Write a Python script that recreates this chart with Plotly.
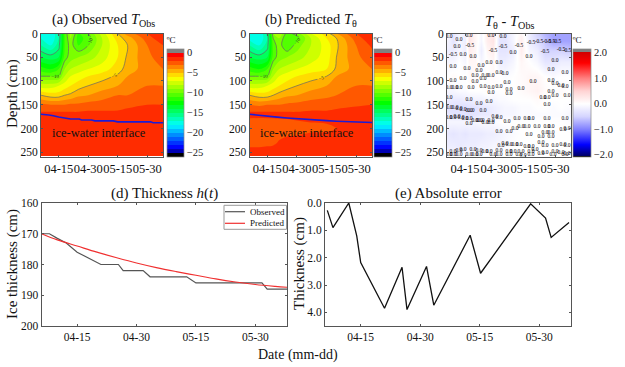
import plotly.graph_objects as go
import pandas as pd

# ---------- data ----------
START = pd.Timestamp("2020-04-06")
tick_dates = ["2020-04-15", "2020-04-30", "2020-05-15", "2020-05-30"]
tick_labels = ["04-15", "04-30", "05-15", "05-30"]

field_days = [0, 5, 9, 12, 15, 19, 24, 31, 39, 44, 54, 62]
field_depths = [0, 10, 25, 50, 75, 90, 110, 130, 150, 165, 175, 200, 230, 258]

observed_field = [
    [-17, -18, -16, -11, -8.5, -11, -10, -7.5, -5, -3.5, -2, -1],
    [-17, -18, -16, -11, -9, -11.5, -10.5, -8, -5.5, -4.5, -2.5, -1.2],
    [-16, -17, -15.5, -11, -9.5, -11, -10, -8, -6, -5, -3, -2],
    [-14, -14.5, -14, -10.5, -9.5, -9, -8.5, -7.5, -6, -4.8, -3.2, -2.6],
    [-11.5, -12, -11, -9, -8, -7.5, -7, -6.5, -5.5, -4.5, -3.5, -3],
    [-10, -10, -10, -8, -7, -6.5, -6, -5.5, -4.8, -4, -3.5, -3],
    [-7.5, -7.5, -7, -6.5, -6, -5.5, -5, -4.5, -4, -3.5, -3, -3],
    [-5, -5.5, -5.5, -5, -4.8, -4.2, -4, -3.5, -3, -3, -2.7, -2.5],
    [-2.8, -3, -3, -3, -2.8, -2.8, -2.6, -2.5, -2.4, -2.2, -2, -2],
    [-2, -2, -2, -2, -2, -2, -1.9, -1.9, -1.9, -1.8, -1.7, -1.6],
    [-1.8, -1.8, -1.8, -1.8, -1.8, -1.8, -1.7, -1.7, -1.7, -1.7, -1.6, -1.6],
    [-1.7, -1.7, -1.7, -1.7, -1.7, -1.6, -1.6, -1.6, -1.6, -1.6, -1.5, -1.5],
    [-1.5, -1.5, -1.5, -1.5, -1.5, -1.5, -1.5, -1.5, -1.4, -1.4, -1.4, -1.4],
    [-1.2, -1.2, -1.2, -1.2, -1.2, -1.2, -1.2, -1.2, -1.2, -1.2, -1.2, -1.2],
]

predicted_field = [
    [-17.5, -18, -15.5, -9, -8, -10.5, -9.5, -7, -5.5, -4, -2, -1],
    [-17.5, -18, -16, -10, -9, -11, -10.5, -8, -6, -5, -2.5, -1.2],
    [-16, -17, -15.5, -10.5, -9.5, -11, -9.5, -8, -6.5, -5.2, -3, -1.8],
    [-14, -14.5, -14, -10.5, -9.5, -9, -8.5, -7.5, -6.5, -5, -3.2, -2.5],
    [-11.5, -12, -11, -9, -8, -7.5, -7, -6.5, -6, -4.8, -3.5, -3],
    [-10, -10, -10, -8, -7, -6.5, -6, -5.5, -5, -4, -3.5, -3],
    [-7.5, -7.5, -7, -6.5, -6, -5.5, -5, -4.5, -4, -3.5, -3, -3],
    [-5, -5.5, -5.5, -5, -4.6, -4.2, -4, -3.5, -3.2, -3, -2.8, -2.5],
    [-3, -3.2, -3, -3, -3, -2.8, -2.7, -2.5, -2.5, -2.3, -2.1, -2],
    [-2, -2, -2, -2, -2, -2, -2, -1.9, -1.9, -1.8, -1.7, -1.6],
    [-1.9, -1.9, -1.9, -1.9, -1.9, -1.9, -1.8, -1.8, -1.7, -1.7, -1.6, -1.5],
    [-2.6, -2.7, -2.6, -2.6, -2.5, -2.4, -2.4, -2.2, -2.2, -2, -1.6, -1.5],
    [-2.4, -2.4, -2.3, -2.2, -1.9, -1.7, -1.6, -1.5, -1.4, -1.4, -1.4, -1.3],
    [-1.2, -1.2, -1.2, -1.2, -1.2, -1.2, -1.2, -1.2, -1.2, -1.2, -1.2, -1.2],
]

diff_days = [0, 3, 6, 9, 11, 14, 17, 20, 23, 26, 29, 33, 37, 41, 45, 49, 53, 57, 62]
diff_depths = [0, 15, 35, 60, 90, 120, 140, 155, 170, 185, 210, 235, 258]
diff_field = [
    [-0.1, -0.3, -0.1, -0.2, 0.3, 0.1, -0.1, 0.2, 0.3, -0.2, -0.3, -0.1, 0.1, -0.2, -0.5, -0.7, -0.8, -0.8, -0.8],
    [-0.1, -0.3, -0.1, -0.2, 0.3, 0.1, -0.1, 0.2, 0.3, -0.3, -0.3, -0.1, 0.2, -0.2, -0.4, -0.6, -0.8, -0.8, -0.8],
    [-0.2, -0.2, -0.1, -0.2, 0.2, 0.1, -0.2, 0.1, 0.2, -0.3, -0.3, -0.2, 0.2, -0.1, -0.2, -0.5, -0.5, -0.5, -0.6],
    [-0.1, -0.1, 0, -0.1, 0.1, 0.1, -0.1, 0, 0.1, -0.2, -0.2, -0.1, 0.1, 0, -0.1, -0.3, -0.3, -0.2, -0.2],
    [0, 0.05, 0, 0, 0.05, 0.05, 0, 0, 0.05, 0, -0.05, 0, 0.05, 0.1, 0.1, 0, -0.05, 0, 0],
    [-0.1, -0.1, -0.05, -0.05, 0, 0, 0, 0.05, 0, 0, 0, 0, 0.05, 0.1, 0.15, 0.05, 0, 0.05, 0],
    [-0.2, -0.25, -0.25, -0.2, -0.2, -0.15, -0.15, -0.1, -0.1, -0.05, -0.05, 0, 0, 0, 0.05, 0, 0, 0, 0],
    [-0.35, -0.35, -0.35, -0.4, -0.35, -0.35, -0.3, -0.25, -0.2, -0.15, -0.1, -0.1, -0.05, -0.05, 0, 0, -0.05, 0, -0.05],
    [-0.25, -0.3, -0.3, -0.3, -0.35, -0.3, -0.25, -0.25, -0.2, -0.15, -0.1, -0.1, -0.05, -0.05, -0.05, -0.05, -0.05, -0.05, -0.1],
    [-0.1, -0.1, -0.1, -0.1, -0.1, -0.1, -0.05, -0.05, -0.05, 0, 0, 0, 0, 0, 0, 0, 0, 0, -0.05],
    [-0.25, -0.3, -0.25, -0.3, -0.25, -0.25, -0.25, -0.2, -0.2, -0.15, -0.1, -0.05, 0, 0, 0, 0, 0, 0, 0],
    [-0.2, -0.2, -0.25, -0.2, -0.2, -0.2, -0.15, -0.15, -0.1, -0.1, -0.05, 0, 0, 0, 0, 0, 0, 0, 0],
    [-0.05, -0.05, -0.05, -0.05, -0.05, 0, 0, 0, 0, 0, 0, 0, 0, 0, 0, 0, 0, 0, 0],
]

zero_label_days = [1, 6, 11, 22, 28, 5, 8, 13, 33, 41, 3, 10, 17, 21, 26, 54, 16, 14, 19, 26, 29, 52, 59,
                   3, 8, 14, 18, 22, 30, 43, 52, 54, 57, 1, 4, 6, 12, 18, 22, 26, 31, 37, 59,
                   1, 22, 31, 52, 54, 60, 48, 50, 50, 16, 21, 11, 1, 4, 6, 8, 11, 12, 18,
                   1, 3, 5, 7, 9, 11, 14, 16, 17, 22, 24, 26, 30, 35, 40, 42, 50, 59, 11, 19, 22,
                   26, 31, 34, 37, 40, 45, 50, 52, 49, 52, 58, 60, 41, 47, 52,
                   27, 29, 31, 34, 36, 40, 42, 47, 49, 54, 58, 60,
                   3, 6, 8, 13, 16, 19, 21, 26, 31, 33, 37, 42, 44, 49, 54, 57, 60,
                   1, 3, 6, 11, 14, 16, 23, 26, 31, 36, 38, 42, 47, 53, 59]
zero_label_depths = [7, 13, 4, 5, 7, 28, 44, 48, 41, 49, 70, 73, 68, 61, 62, 58, 79, 88, 88, 82, 85, 76, 82,
                     99, 94, 101, 95, 89, 104, 101, 99, 106, 109, 114, 114, 114, 115, 111, 114, 111, 118, 116, 111,
                     135, 125, 127, 123, 130, 130, 135, 135, 150, 148, 144, 139, 156, 156, 158, 161, 162, 162, 162,
                     177, 177, 176, 177, 180, 180, 183, 183, 183, 183, 176, 177, 185, 179, 179, 179, 180, 179, 190, 187, 187,
                     206, 206, 201, 197, 197, 196, 197, 196, 208, 208, 203, 201, 213, 217, 217,
                     236, 232, 234, 234, 234, 238, 238, 229, 236, 236, 234, 236,
                     248, 246, 244, 244, 246, 248, 248, 246, 248, 248, 248, 248, 245, 250, 248, 250, 252,
                     254, 255, 255, 254, 255, 254, 254, 255, 255, 254, 257, 255, 252, 255, 255]
neg_label_days = [11.4, 3, 23, 28, 36, 42, 46, 50, 52, 55, 49, 57, 60]
neg_label_depths = [25, 44, 37, 28, 25, 19, 18, 18, 18, 18, 39, 33, 37]

observed_thickness_dates = ["2020-04-06", "2020-04-08", "2020-04-10", "2020-04-12 06:00", "2020-04-15", "2020-04-21", "2020-04-25 10:00",
                            "2020-04-26 15:00", "2020-05-01 16:00", "2020-05-03 10:00", "2020-05-12 16:00", "2020-05-15",
                            "2020-05-31 16:00", "2020-06-02", "2020-06-07"]
observed_thickness = [170, 170, 171.5, 173, 176, 180, 180, 182, 182, 184, 184, 186, 186, 188, 188]

predicted_thickness_dates = ["2020-04-06", "2020-04-10", "2020-04-15", "2020-04-20", "2020-04-25", "2020-04-30", "2020-05-05", "2020-05-10",
                             "2020-05-15", "2020-05-20", "2020-05-25", "2020-05-30", "2020-06-04", "2020-06-07"]
predicted_thickness = [170, 172, 174, 176, 177.8, 179.5, 181, 182.3, 183.5, 184.7, 185.7, 186.5, 187.1, 187.4]

error_dates = ["2020-04-06 14:00", "2020-04-08", "2020-04-12", "2020-04-14", "2020-04-15", "2020-04-21", "2020-04-25 10:00",
               "2020-04-26 16:00", "2020-05-01 14:00", "2020-05-03 10:00", "2020-05-12 14:00", "2020-05-15 05:00",
               "2020-05-27 20:00", "2020-05-31 14:00", "2020-06-02", "2020-06-06 12:00"]
absolute_error = [0.27, 0.9, 0.0, 1.2, 2.18, 3.85, 2.35, 3.9, 2.32, 3.74, 1.18, 2.57, 0.03, 0.55, 1.26, 0.71]

legend_names = ["Observed", "Predicted"]

# ---------- styling ----------
W, H = 625, 367
FONT = "Liberation Serif"
FRAME = "#555555"
END = "2020-06-07"
OBS_COLOR, PRED_COLOR = "#555555", "#f03030"


def days(values):
    return [START + pd.Timedelta(days=v) for v in values]


def px_x(v):
    return v / W


def px_y(v):
    return 1 - v / H


tpos = lambda v: (v + 26) / 27
temp_scale = [
    [0.0, "#000000"], [tpos(-25), "#000000"], [tpos(-25), "#00008c"], [tpos(-23.6), "#0000ff"],
    [tpos(-18), "#00ffff"], [tpos(-12.5), "#00ff00"], [tpos(-6.3), "#ffff00"], [tpos(-0.5), "#ff0000"],
    [tpos(0.2), "#ff0000"], [tpos(0.2), "#808080"], [1.0, "#808080"],
]
z0, z1 = -2.08, 2.15
span = z1 - z0
pos = lambda v: (v - z0) / span
diff_scale = [
    [0.0, "#000000"], [pos(-2.03), "#000000"], [pos(-2.03), "#00006a"], [pos(-1.6), "#0000ff"], [pos(-1.0), "#8080ff"],
    [pos(-0.5), "#d4d4ff"], [pos(0), "#ffffff"], [pos(0.5), "#ffd4d4"], [pos(1.0), "#ff8080"], [pos(1.6), "#ff0000"],
    [pos(2.03), "#d00000"], [pos(2.03), "#808080"], [1.0, "#808080"],
]

fig = go.Figure()
panels = [
    ("x", "y", 167, 184, observed_field, observed_thickness_dates, observed_thickness),
    ("x2", "y2", 374, 392, predicted_field, predicted_thickness_dates, predicted_thickness),
]
TOP, BOTTOM = 33.5, 156.5
cb_font = dict(family=FONT, size=10.5, color="#222")
cb_title = dict(text="ºC", side="top", font=dict(family=FONT, size=9, color="#111"))
for xa, ya, cb0, cb1, field, line_x, line_y in panels:
    fig.add_trace(go.Contour(
        x=days(field_days), y=field_depths, z=field, xaxis=xa, yaxis=ya, showlegend=False,
        colorscale=temp_scale, zmin=-26, zmax=1, zauto=False,
        contours=dict(coloring="fill", start=-26, end=1, size=1, showlines=False),
        line=dict(width=0), hoverinfo="skip",
        colorbar=dict(
            x=px_x(cb0), xanchor="left", y=px_y(BOTTOM), yanchor="bottom", lenmode="fraction",
            len=(BOTTOM - TOP) / H, thickness=cb1 - cb0, thicknessmode="pixels", xpad=0, ypad=0,
            tickvals=[-25, -20, -15, -10, -5, 0], ticks="",
            tickfont=cb_font, outlinewidth=0.7, outlinecolor="#888", title=cb_title,
        ),
    ))
    fig.add_trace(go.Contour(
        x=days(field_days), y=field_depths, z=field, xaxis=xa, yaxis=ya, showscale=False, showlegend=False,
        contours=dict(coloring="none", start=-15, end=-5, size=5, showlabels=True,
                      labelfont=dict(family=FONT, size=5, color="#333")),
        line=dict(color="#666666", width=0.7), hoverinfo="skip",
    ))
    fig.add_trace(go.Scatter(x=line_x, y=line_y, xaxis=xa, yaxis=ya, mode="lines", showlegend=False,
                             line=dict(color="#1c1cd8", width=1.6), hoverinfo="skip"))

fig.add_trace(go.Contour(
    x=days(diff_days), y=diff_depths, z=diff_field, xaxis="x3", yaxis="y3", showlegend=False,
    colorscale=diff_scale, zmin=z0, zmax=z1, zauto=False,
    contours=dict(coloring="heatmap", start=z0, end=z1, size=0.05, showlines=False),
    line=dict(width=0), hoverinfo="skip",
    colorbar=dict(
        x=px_x(573), xanchor="left", y=px_y(BOTTOM), yanchor="bottom", len=(BOTTOM - TOP) / H,
        thickness=18, thicknessmode="pixels", xpad=0, ypad=0,
        tickvals=[-2, -1, 0, 1, 2], ticktext=["−2.0", "−1.0", "0.0", "1.0", "2.0"],
        ticks="", tickfont=cb_font, outlinewidth=0.7, outlinecolor="#888", title=cb_title,
    ),
))
label_font = dict(family=FONT, size=5.5, color="#000000")
fig.add_trace(go.Scatter(x=days(zero_label_days), y=zero_label_depths, xaxis="x3", yaxis="y3", mode="text",
                         text=["0.0"] * len(zero_label_days), showlegend=False, hoverinfo="skip", textfont=label_font))
fig.add_trace(go.Scatter(x=days(neg_label_days), y=neg_label_depths, xaxis="x3", yaxis="y3", mode="text",
                         text=["-0.5"] * len(neg_label_days), showlegend=False, hoverinfo="skip", textfont=label_font))

fig.add_trace(go.Scatter(x=observed_thickness_dates, y=observed_thickness, xaxis="x4", yaxis="y4", mode="lines",
                         name=legend_names[0], showlegend=False, line=dict(color=OBS_COLOR, width=1.2)))
fig.add_trace(go.Scatter(x=predicted_thickness_dates, y=predicted_thickness, xaxis="x4", yaxis="y4", mode="lines",
                         name=legend_names[1], showlegend=False, line=dict(color=PRED_COLOR, width=1.2, shape="spline")))
fig.add_trace(go.Scatter(x=error_dates, y=absolute_error, xaxis="x5", yaxis="y5", mode="lines", showlegend=False,
                         line=dict(color="#111111", width=1.3)))

common_x = dict(type="date", range=[START, END], tickvals=tick_dates, ticktext=tick_labels, ticks="inside", tickangle=0,
                ticklen=2, tickcolor=FRAME, showgrid=False, zeroline=False, showline=True, linecolor=FRAME,
                linewidth=1, mirror="allticks", layer="above traces")
common_y = dict(showgrid=False, zeroline=False, ticks="inside", ticklen=2, tickcolor=FRAME, showline=True,
                linecolor=FRAME, linewidth=1, mirror="allticks", layer="above traces")
top_x_font = dict(family=FONT, size=12.5, color="#111")
top_y_font = dict(family=FONT, size=11.5, color="#111")
low_font = dict(family=FONT, size=11.5, color="#111")
layout_axes = {}
boxes = [("", 41, 163, 33.5, 156.5), ("2", 249.5, 372, 33.5, 156.5), ("3", 447, 571, 33.5, 156.5)]
for suffix, l, r, t, b in boxes:
    layout_axes["xaxis" + suffix] = dict(common_x, domain=[px_x(l), px_x(r)], anchor="y" + suffix, tickfont=top_x_font)
    layout_axes["yaxis" + suffix] = dict(common_y, domain=[px_y(b), px_y(t)], anchor="x" + suffix, range=[259, 0],
                                         tickvals=[0, 50, 100, 150, 200, 250], tickfont=top_y_font)
layout_axes["xaxis4"] = dict(common_x, domain=[px_x(41.5), px_x(287)], anchor="y4", tickfont=low_font)
layout_axes["yaxis4"] = dict(common_y, domain=[px_y(326), px_y(203)], anchor="x4", range=[200, 160],
                             tickvals=[160, 170, 180, 190, 200], tickfont=low_font)
layout_axes["xaxis5"] = dict(common_x, domain=[px_x(325), px_x(571)], anchor="y5", tickfont=low_font)
layout_axes["yaxis5"] = dict(common_y, domain=[px_y(326), px_y(203)], anchor="x5", range=[4.5, 0],
                             tickvals=[0, 1, 2, 3, 4], ticktext=["0.0", "1.0", "2.0", "3.0", "4.0"], tickfont=low_font)


def note(x, y, text, size, anchor="center", **kw):
    return dict(x=x, y=y, xref="paper", yref="paper", text=text, showarrow=False, xanchor=anchor, yanchor="middle",
                font=dict(family=FONT, size=size, color="#111"), **kw)


notes = [
    note(px_x(103), px_y(20), "(a) Observed <i>T</i><sub>Obs</sub>", 14.5),
    note(px_x(311), px_y(20), "(b) Predicted <i>T</i><sub>θ</sub>", 14.5),
    note(px_x(509), px_y(22), "<i>T</i><sub>θ</sub> - <i>T</i><sub>Obs</sub>", 14.5),
    note(px_x(164), px_y(193), "(d) Thickness <i>h</i>(<i>t</i>)", 15),
    note(px_x(448), px_y(193), "(e) Absolute error", 15),
    note(px_x(12), px_y(94), "Depth (cm)", 15, textangle=-90),
    note(px_x(12), px_y(264), "Ice thickness (cm)", 15, textangle=-90),
    note(px_x(299), px_y(264), "Thickness (cm)", 15, textangle=-90),
    note(px_x(298), px_y(355), "Date (mm-dd)", 14),
    note(px_x(99), px_y(133), "ice-water interface", 12.5),
    note(px_x(307), px_y(133), "ice-water interface", 12.5),
    note(px_x(248), px_y(211.7), legend_names[0], 9, anchor="left"),
    note(px_x(248), px_y(223.3), legend_names[1], 9, anchor="left"),
]

legend_shapes = [
    dict(type="rect", xref="paper", yref="paper", x0=px_x(224), x1=px_x(286.5), y0=px_y(229.3), y1=px_y(205.3),
         line=dict(color="#999999", width=1), fillcolor="white", layer="above"),
    dict(type="line", xref="paper", yref="paper", x0=px_x(225), x1=px_x(245), y0=px_y(211.7), y1=px_y(211.7),
         line=dict(color=OBS_COLOR, width=1.2), layer="above"),
    dict(type="line", xref="paper", yref="paper", x0=px_x(225), x1=px_x(245), y0=px_y(223.3), y1=px_y(223.3),
         line=dict(color=PRED_COLOR, width=1.2), layer="above"),
]

fig.update_layout(
    width=W, height=H, autosize=False, margin=dict(l=0, r=0, t=0, b=0, autoexpand=False), paper_bgcolor="white",
    plot_bgcolor="white", font=dict(family=FONT), annotations=notes, shapes=legend_shapes, showlegend=False,
    **layout_axes,
)
fig.write_html("out.html", config={"displayModeBar": False}, post_script="document.body.style.margin='0';")
